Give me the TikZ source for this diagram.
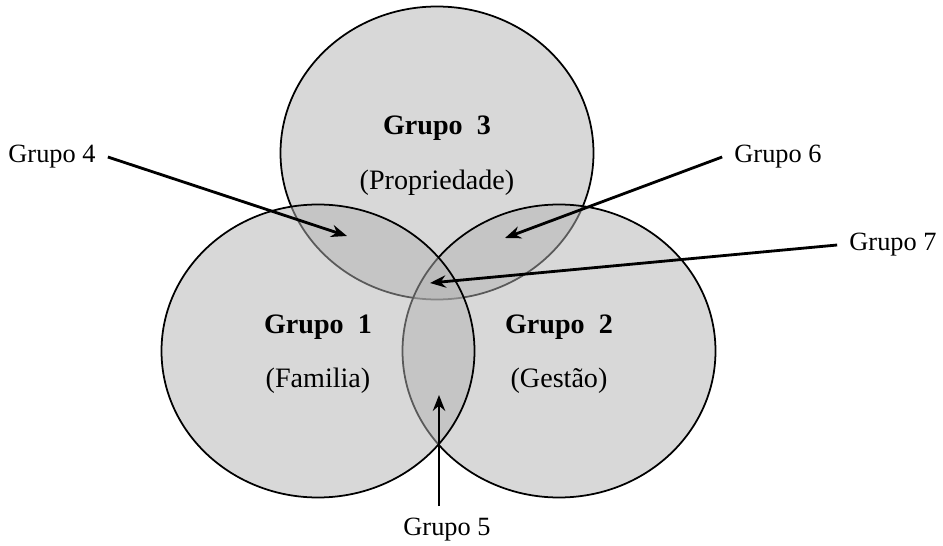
\documentclass[tikz,border=0pt]{standalone}
\usepackage{fontspec}
\setmainfont{Liberation Serif}
\usetikzlibrary{arrows.meta,calc}
\newcommand{\groupCircle}[1]{%%
  \draw[circleStyle] (#1) ellipse [x radius=\rx, y radius=\ry];
}
\newcommand{\groupText}[4]{%%
  \node[titleStyle] (#1title) at ($(#1)+(#2)$) {Grupo\enspace #3};
  \node[nameStyle] (#1name) at ($(#1)+(0,-30)$) {(#4)};
}

\begin{document}
\begin{tikzpicture}[%%
  x=0.02cm,y=0.02cm,%%
  circleStyle/.style={draw=black,line width=1pt,fill=gray!60,fill opacity=0.5},%%
  arrowStyle/.style={-{Stealth[length=9pt,width=7pt]},line width=1.6pt},%%
  titleStyle/.style={font=\fontsize{16}{19}\selectfont\bfseries,inner sep=0pt},%%
  nameStyle/.style={font=\fontsize{16}{19}\selectfont,inner sep=0pt},%%
  labelStyle/.style={font=\fontsize{15}{18}\selectfont,inner sep=2pt,outer sep=5pt}%%
]
%%
\useasboundingbox (0,0) rectangle (943,545);
%%
\pgfmathsetmacro{\rx}{156.5}
\pgfmathsetmacro{\ry}{146.5}
%%
\coordinate (familia) at (318,194);
\coordinate (gestao) at (559,194);
\coordinate (propriedade) at (437,392);
%%
\coordinate (tipFour) at (347,309);
\coordinate (tipFive) at (439,150);
\coordinate (tipSix) at (505,307);
\coordinate (tipSeven) at (430,262);
%%
%% The three circles.
\groupCircle{propriedade}
\groupCircle{gestao}
\groupCircle{familia}
%%
\groupText{propriedade}{0,25}{3}{Propriedade}
\groupText{familia}{0,24}{1}{Familia}
\groupText{gestao}{0,24}{2}{Gestão}
%%
%% The outside labels.
\node[labelStyle] (grupoFour) at (52,388) {Grupo 4};
\node[labelStyle] (grupoFive) at (447,15) {Grupo 5};
\node[labelStyle] (grupoSix) at (778,388) {Grupo 6};
\node[labelStyle] (grupoSeven) at (893,300) {Grupo 7};
%%
\draw[arrowStyle] (grupoFour.east) -- (tipFour);
\draw[arrowStyle] (grupoFive.north -| tipFive) -- (tipFive);
\draw[arrowStyle] (grupoSix.west) -- (tipSix);
\draw[arrowStyle] (grupoSeven.west) -- (tipSeven);
\end{tikzpicture}
\end{document}
